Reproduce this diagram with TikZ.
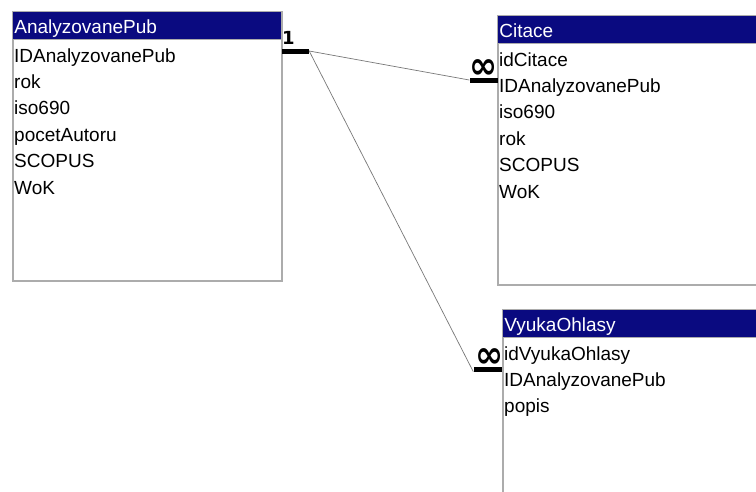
\documentclass[tikz,border=0pt]{standalone}
\usepackage{fontspec}
\setmainfont{Liberation Sans}
\newfontfamily\symfont{DejaVu Sans}
\usetikzlibrary{positioning}

\definecolor{hdrblue}{RGB}{10,10,128}
\definecolor{tblframe}{RGB}{172,172,172}
\definecolor{relgray}{RGB}{120,120,120}

\begin{document}
\begin{tikzpicture}[
  x=1pt, y=-1pt,
  % --- table parts ---
  tbl/.style={draw=tblframe, line width=1.6pt, fill=white, anchor=north west, inner sep=0pt},
  hdr/.style={draw=tblframe, line width=0.8pt, fill=hdrblue, text=white, anchor=north west,
    text width=#1, minimum height=28pt, inner xsep=2pt, inner ysep=0pt,
    text height=18pt, text depth=2pt, font=\fontsize{19}{22}\selectfont},
  fld/.style={anchor=north west, minimum height=26pt, inner xsep=2pt, inner ysep=0pt,
    text height=13pt, text depth=4pt, font=\fontsize{19}{22}\selectfont},
  % --- relationship ends ---
  onebar/.style={fill=black, minimum width=27pt, minimum height=5pt, inner sep=0pt},
  manybar/.style={fill=black, minimum width=28pt, minimum height=5pt, inner sep=0pt},
  onelbl/.style={font=\symfont\bfseries\fontsize{18}{18}\selectfont, inner sep=0pt},
  manylbl/.style={font=\symfont\bfseries\fontsize{25}{25}\selectfont, inner sep=0pt},
  rel/.style={draw=relgray, line width=0.7pt},
]

\clip (0,0) rectangle (756,491);
\fill[white] (0,0) rectangle (756,491);

% ===================== ANALYZOVANEPUB =====================

\node[tbl, minimum width=269pt, minimum height=269pt] (tA) at (12,11) {};
\node[hdr=265pt] (hA) at (tA.north west) {AnalyzovanePub};
\node[fld] (a1) at ([yshift=-4.5pt]hA.south west) {IDAnalyzovanePub};
\node[fld] (a2) at (a1.south west) {rok};
\node[fld] (a3) at (a2.south west) {iso690};
\node[fld] (a4) at (a3.south west) {pocetAutoru};
\node[fld] (a5) at (a4.south west) {SCOPUS};
\node[fld] (a6) at (a5.south west) {WoK};

% ===================== CITACE =====================

\node[tbl, minimum width=270pt, minimum height=269pt] (tC) at (497,15) {};
\node[hdr=266pt] (hC) at (tC.north west) {Citace};
\node[fld] (c1) at ([yshift=-4.5pt]hC.south west) {idCitace};
\node[fld] (c2) at (c1.south west) {IDAnalyzovanePub};
\node[fld] (c3) at (c2.south west) {iso690};
\node[fld] (c4) at (c3.south west) {rok};
\node[fld] (c5) at (c4.south west) {SCOPUS};
\node[fld] (c6) at (c5.south west) {WoK};

% ===================== VYUKAOHLASY =====================

\node[tbl, minimum width=270pt, minimum height=220pt] (tV) at (502,309) {};
\node[hdr=266pt] (hV) at (tV.north west) {VyukaOhlasy};
\node[fld] (v1) at ([yshift=-4.5pt]hV.south west) {idVyukaOhlasy};
\node[fld] (v2) at (v1.south west) {IDAnalyzovanePub};
\node[fld] (v3) at (v2.south west) {popis};

% ===================== RELATIONSHIPS =====================

\node[onebar] (one) at (295.5,51) {};
\node[onelbl, above right=4pt and 0pt of one.north west, anchor=south west] (onel) {1};

\node[manybar] (manyC) at (483.5,80) {};
\node[manylbl, above=-1pt of manyC, xshift=0pt] (manyCl) {\scalebox{1.35}[1.5]{∞}};

\node[manybar] (manyV) at (487.5,369) {};
\node[manylbl, above=-1pt of manyV, xshift=2pt] (manyVl) {\scalebox{1.35}[1.5]{∞}};

\draw[rel] (one.east) -- (manyC.west);
\draw[rel] (one.east) -- (manyV.south west);

\end{tikzpicture}
\end{document}
